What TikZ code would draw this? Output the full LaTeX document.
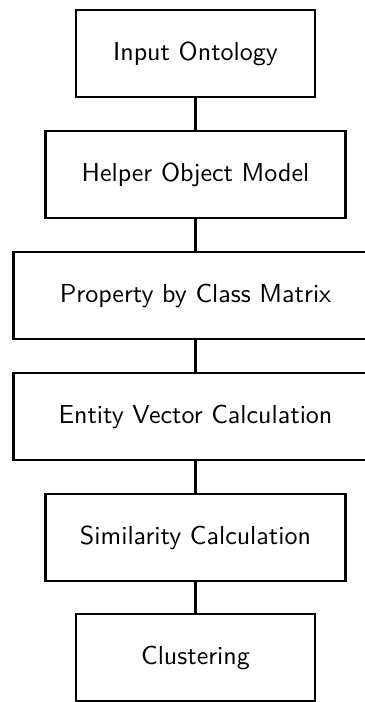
\documentclass[tikz,border=0pt]{standalone}
\begin{document}
\begin{tikzpicture}[x=0.3846pt, y=-0.3846pt, line width=1.1pt,
  stage/.style={draw, inner sep=0pt, font=\sffamily, minimum height=87*0.3846pt},
  narrow/.style={stage, minimum width=239*0.3846pt},
  medium/.style={stage, minimum width=300*0.3846pt},
  wide/.style={stage, minimum width=364*0.3846pt}]
\useasboundingbox (0,0) rectangle (365,702);
\clip (0,0) rectangle (365,702);
% processing stages, top to bottom
\node[narrow] (input)   at (195.5, 53.5)  {Input Ontology};
\node[medium] (helper)  at (195.5, 174.5) {Helper Object Model};
\node[wide]   (matrix)  at (195.5, 295.5) {Property by Class Matrix};
\node[wide]   (vector)  at (195.5, 416.5) {Entity Vector Calculation};
\node[medium] (simil)   at (195.5, 537.5) {Similarity Calculation};
\node[narrow] (cluster) at (195.5, 657.5) {Clustering};
% links between consecutive stages
\draw (input)  -- (helper);
\draw (helper) -- (matrix);
\draw (matrix) -- (vector);
\draw (vector) -- (simil);
\draw (simil)  -- (cluster);
\end{tikzpicture}
\end{document}
